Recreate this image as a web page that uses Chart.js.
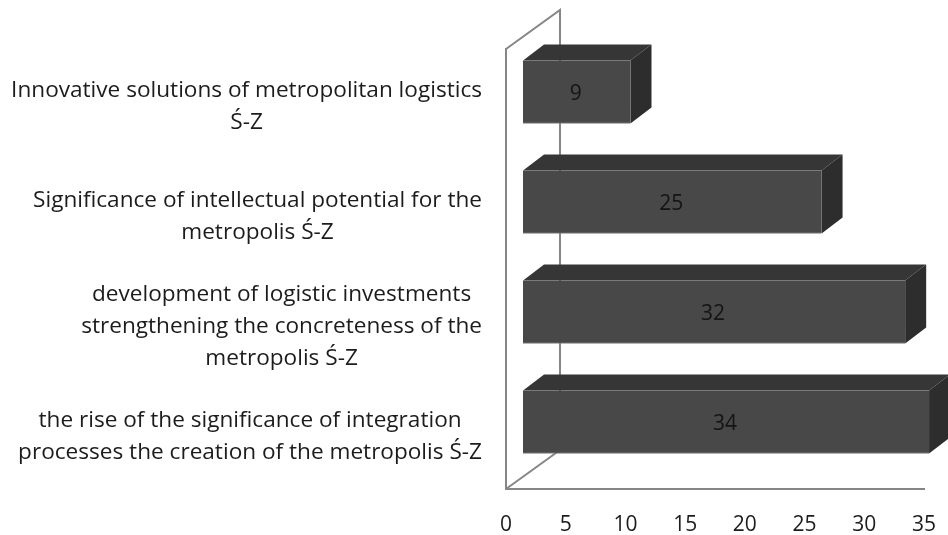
<!DOCTYPE html>
<html><head><meta charset="utf-8">
<style>html,body{margin:0;padding:0;background:#fff}canvas{display:block}</style>
<script src="https://cdn.jsdelivr.net/npm/chart.js@4"></script>
</head><body><canvas id="c" width="948" height="535"></canvas>
<script>
const categories = [
  ["Innovative solutions of metropolitan logistics","Ś-Z"],
  ["Significance of intellectual potential for the","metropolis Ś-Z"],
  ["development of logistic investments","strengthening the concreteness of the","metropolis Ś-Z"],
  ["the rise of the significance of integration","processes the creation of the metropolis Ś-Z"]
];
const values = [9,25,32,34];
const xTicks = [0,5,10,15,20,25,30,35];
const FONT = "'Open Sans'";
const textColor = "#1c1c1c", wall = "#868686";
const frontColor = "#484848", topColor = "#363636", sideColor = "#2d2d2d";
const shiftX = 17, shiftY = -12, depthX = 21, depthY = 16;
const wallX = 54, wallY = 39;
const labelRight = 482;

const threeD = {
  id:'threeD',
  beforeDraw(chart){
    const s = chart.scales.y, ctx = chart.ctx;
    ctx.save(); ctx.font = s.options.ticks.font.size+"px "+FONT;
    s.getLabelItems().forEach(it=>{
      const lines = Array.isArray(it.label)?it.label:[it.label];
      const w = Math.max(...lines.map(l=>ctx.measureText(l).width));
      it.options.textAlign='center';
      it.options.translation=[labelRight-w/2,s.getPixelForTick(s.ticks.findIndex(t=>t.label===it.label))+2.5];
    });
    ctx.restore();
  },
  beforeDatasetDraw(chart){
    const ctx = chart.ctx, a = chart.chartArea;
    ctx.save();
    ctx.strokeStyle = wall; ctx.lineWidth = 2; ctx.lineJoin='miter';
    ctx.beginPath();
    ctx.moveTo(a.left,a.top); ctx.lineTo(a.left+wallX,a.top-wallY); ctx.lineTo(a.left+wallX,a.bottom-wallY);
    ctx.lineTo(a.left,a.bottom);
    ctx.stroke();
    ctx.restore();
    ctx.save();
    ctx.translate(shiftX,shiftY);
    chart.getDatasetMeta(0).data.forEach(b=>{
      const h=b.height/2, x0=chart.scales.x.left, x1=b.x, t=b.y-h, bt=b.y+h;
      ctx.fillStyle=topColor; ctx.beginPath();
      ctx.moveTo(x0,t); ctx.lineTo(x0+depthX,t-depthY); ctx.lineTo(x1+depthX,t-depthY); ctx.lineTo(x1,t); ctx.closePath(); ctx.fill();
      ctx.fillStyle=sideColor; ctx.beginPath();
      ctx.moveTo(x1,t); ctx.lineTo(x1+depthX,t-depthY); ctx.lineTo(x1+depthX,bt-depthY); ctx.lineTo(x1,bt); ctx.closePath(); ctx.fill();
    });
  },
  afterDatasetDraw(chart){
    const ctx = chart.ctx;
    ctx.fillStyle="#141414"; ctx.font="21px "+FONT; ctx.textAlign='center'; ctx.textBaseline='middle';
    chart.getDatasetMeta(0).data.forEach((b,i)=>{
      ctx.fillText(String(values[i]),(chart.scales.x.left+b.x)/2-1,b.y+2.5);
    });
    ctx.restore();
  }
};

new Chart(document.getElementById('c'),{
  type:'bar',
  data:{labels:categories,datasets:[{data:values,backgroundColor:frontColor,borderColor:"#7a7a7a",borderWidth:{bottom:1,left:1},barThickness:63,clip:false}]},
  plugins:[threeD],
  options:{
    indexAxis:'y',responsive:false,animation:false,
    layout:{autoPadding:false,padding:{top:49,right:24,left:0,bottom:0}},
    plugins:{legend:{display:false},tooltip:{enabled:false},title:{display:false}},
    scales:{
      x:{min:0,max:35,
        afterBuildTicks(s){s.ticks=xTicks.map(v=>({value:v}));},
        afterFit(s){s.height=46;s.paddingLeft=0;s.paddingRight=0;},
        grid:{display:false},border:{display:true,color:wall,width:2},
        ticks:{color:textColor,font:{family:FONT,size:21},padding:15,maxRotation:0,autoSkip:false}},
      y:{afterFit(s){s.width=506;s.paddingTop=0;s.paddingBottom=0;},
        grid:{display:false},border:{display:true,color:wall,width:2},
        ticks:{color:textColor,font:{family:FONT,size:22.6,lineHeight:1.42},padding:24,autoSkip:false}}
    }
  }
});
</script></body></html>
